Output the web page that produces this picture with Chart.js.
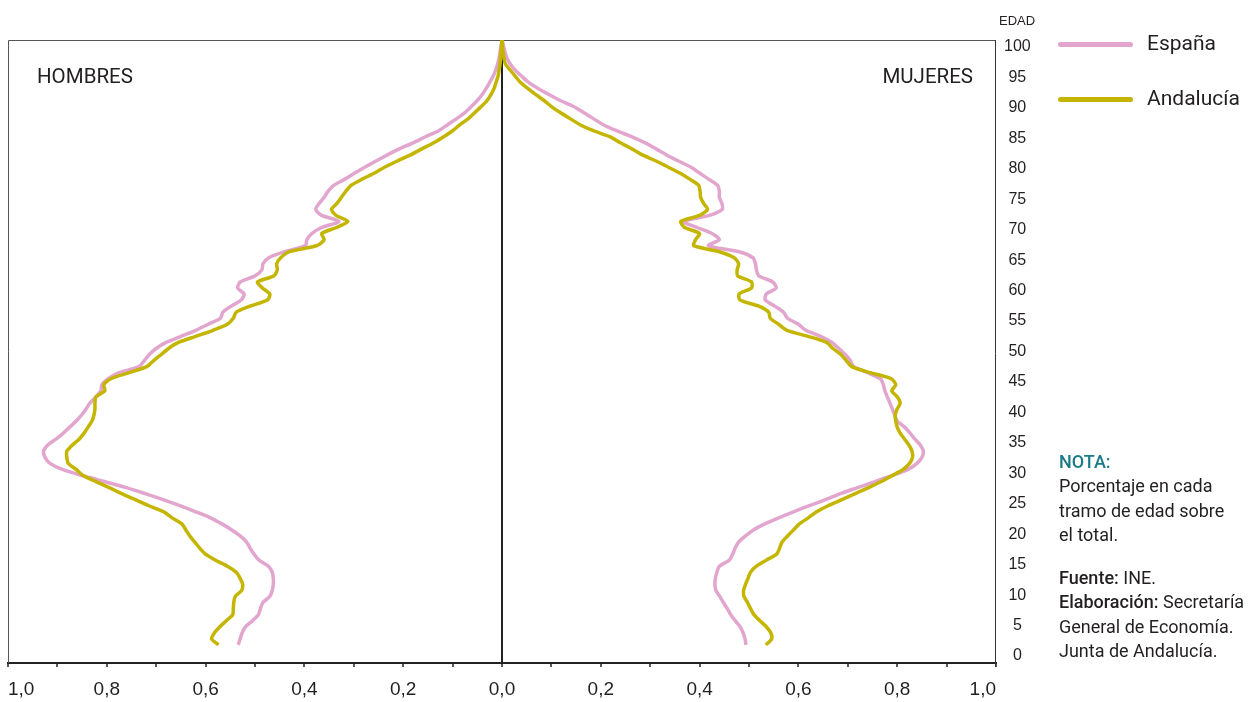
<!DOCTYPE html>
<html lang="es">
<head>
<meta charset="utf-8">
<title>Pirámide de población</title>
<script src="https://cdn.jsdelivr.net/npm/chart.js@4.4.1/dist/chart.umd.min.js"></script>
<style>
  body { margin: 0; background: #fff; }
  #wrap { position: relative; width: 1255px; height: 702px; font-family: Roboto, 'Liberation Sans', Arial, sans-serif; color: #231f20; }
  #grafico { position: absolute; left: 0; top: 0; }
  .lbl { position: absolute; height: 24px; line-height: 24px; white-space: nowrap; }
  .leyenda-linea { position: absolute; left: 1058px; width: 75px; height: 5px; border-radius: 3px; }
  .notas { position: absolute; left: 1059px; font-size: 18px; line-height: 24.5px; white-space: nowrap; }
  .notas b { font-weight: 500; }
</style>
</head>
<body>
<div id="wrap">
  <canvas id="grafico" width="1255" height="702"></canvas>
  <div class="lbl" style="left:37px;top:64px;font-size:20.5px;">HOMBRES</div>
  <div class="lbl" style="right:282px;top:64px;font-size:20.5px;">MUJERES</div>
  <div class="lbl" style="left:999px;top:9px;font-size:13px;font-family:'Liberation Sans',Arial,sans-serif;">EDAD</div>
  <div id="leyenda"></div>
  <div class="notas" style="top:449.75px;">
    <div style="color:#1b7a8a;font-weight:500;">NOTA:</div>
    <div>Porcentaje en cada</div>
    <div>tramo de edad sobre</div>
    <div>el total.</div>
  </div>
  <div class="notas" style="top:565.75px;">
    <div><b>Fuente:</b> INE.</div>
    <div><b>Elaboración:</b> Secretaría</div>
    <div>General de Economía.</div>
    <div>Junta de Andalucía.</div>
  </div>
</div>
<script>
// edades (0 a 100 años)
const edades = Array.from({length: 101}, (_, i) => i);

// porcentaje de población en cada edad (lectura del gráfico)
const espanaHombres = [
  0.534, 0.530, 0.526, 0.519, 0.505, 0.493, 0.489, 0.484, 0.470, 0.465,
  0.463, 0.463, 0.465, 0.473, 0.492, 0.502, 0.510, 0.517, 0.530, 0.547,
  0.567, 0.590, 0.620, 0.652, 0.686, 0.722, 0.760, 0.805, 0.850, 0.890,
  0.915, 0.925, 0.928, 0.920, 0.903, 0.888, 0.875, 0.862, 0.851, 0.842,
  0.834, 0.822, 0.812, 0.810, 0.797, 0.775, 0.735, 0.724, 0.714, 0.700,
  0.680, 0.650, 0.620, 0.595, 0.570, 0.565, 0.548, 0.528, 0.522, 0.535,
  0.530, 0.500, 0.486, 0.484, 0.472, 0.440, 0.398, 0.395, 0.385, 0.365,
  0.330, 0.365, 0.377, 0.370, 0.360, 0.352, 0.340, 0.318, 0.298, 0.277,
  0.255, 0.232, 0.208, 0.180, 0.155, 0.128, 0.110, 0.092, 0.075, 0.062,
  0.050, 0.040, 0.032, 0.025, 0.018, 0.013, 0.009, 0.006, 0.004, 0.002, 0.000
];
const andaluciaHombres = [
  0.574, 0.588, 0.582, 0.571, 0.558, 0.545, 0.544, 0.543, 0.540, 0.527,
  0.525, 0.530, 0.538, 0.556, 0.580, 0.600, 0.612, 0.622, 0.632, 0.640,
  0.648, 0.668, 0.685, 0.715, 0.742, 0.770, 0.795, 0.822, 0.848, 0.862,
  0.878, 0.881, 0.881, 0.870, 0.856, 0.846, 0.838, 0.830, 0.826, 0.824,
  0.824, 0.822, 0.804, 0.806, 0.792, 0.755, 0.719, 0.705, 0.690, 0.675,
  0.655, 0.620, 0.585, 0.556, 0.544, 0.538, 0.510, 0.475, 0.470, 0.485,
  0.495, 0.462, 0.455, 0.456, 0.448, 0.430, 0.375, 0.360, 0.365, 0.335,
  0.312, 0.336, 0.345, 0.334, 0.325, 0.316, 0.305, 0.283, 0.258, 0.237,
  0.212, 0.185, 0.162, 0.138, 0.118, 0.100, 0.085, 0.068, 0.055, 0.042,
  0.030, 0.022, 0.016, 0.012, 0.008, 0.006, 0.004, 0.003, 0.002, 0.001, 0.000
];
const espanaMujeres = [
  0.494, 0.492, 0.488, 0.482, 0.472, 0.463, 0.456, 0.448, 0.441, 0.433,
  0.431, 0.432, 0.435, 0.440, 0.460, 0.467, 0.472, 0.479, 0.493, 0.509,
  0.532, 0.560, 0.590, 0.622, 0.655, 0.685, 0.720, 0.755, 0.790, 0.822,
  0.840, 0.850, 0.853, 0.847, 0.836, 0.826, 0.815, 0.800, 0.795, 0.790,
  0.785, 0.780, 0.775, 0.772, 0.766, 0.740, 0.712, 0.705, 0.695, 0.682,
  0.668, 0.645, 0.615, 0.600, 0.578, 0.570, 0.552, 0.533, 0.535, 0.555,
  0.548, 0.520, 0.515, 0.513, 0.508, 0.480, 0.418, 0.440, 0.425, 0.395,
  0.367, 0.420, 0.446, 0.445, 0.440, 0.440, 0.436, 0.418, 0.400, 0.382,
  0.357, 0.333, 0.312, 0.290, 0.263, 0.232, 0.205, 0.185, 0.165, 0.145,
  0.118, 0.095, 0.073, 0.054, 0.040, 0.027, 0.017, 0.010, 0.006, 0.003, 0.000
];
const andaluciaMujeres = [
  0.534, 0.546, 0.544, 0.535, 0.522, 0.510, 0.503, 0.497, 0.490, 0.489,
  0.493, 0.498, 0.503, 0.515, 0.535, 0.556, 0.562, 0.567, 0.578, 0.590,
  0.602, 0.620, 0.637, 0.660, 0.688, 0.715, 0.742, 0.768, 0.790, 0.812,
  0.825, 0.831, 0.830, 0.824, 0.815, 0.806, 0.800, 0.797, 0.796, 0.800,
  0.806, 0.800, 0.789, 0.797, 0.788, 0.745, 0.708, 0.697, 0.686, 0.670,
  0.657, 0.620, 0.577, 0.560, 0.543, 0.540, 0.520, 0.482, 0.480, 0.505,
  0.505, 0.477, 0.476, 0.479, 0.470, 0.440, 0.388, 0.392, 0.400, 0.370,
  0.362, 0.400, 0.416, 0.408, 0.402, 0.401, 0.398, 0.380, 0.360, 0.336,
  0.312, 0.284, 0.263, 0.240, 0.219, 0.185, 0.158, 0.138, 0.118, 0.100,
  0.085, 0.068, 0.052, 0.037, 0.027, 0.017, 0.007, 0.004, 0.002, 0.001, 0.000
];

// etiquetas de los ejes
const etiquetasX = ['1,0', '0,8', '0,6', '0,4', '0,2', '0,0', '0,2', '0,4', '0,6', '0,8', '1,0'];
const ticksEdad = [0, 5, 10, 15, 20, 25, 30, 35, 40, 45, 50, 55, 60, 65, 70, 75, 80, 85, 90, 95, 100];

const series = ['España', 'Andalucía'];
const colores = ['#e2a5cd', '#c4b500'];

const fuenteEje = "'Liberation Sans Narrow', 'Arial Narrow', 'Liberation Sans', Arial, sans-serif";

// hombres a la izquierda (valores negativos), mujeres a la derecha
function puntos(valores, signo) {
  return edades.map((e, i) => ({x: signo * valores[i], y: e}));
}

function serie(nombre, valores, signo, color, orden) {
  return {
    label: nombre,
    data: puntos(valores, signo),
    showLine: true,
    borderColor: color,
    backgroundColor: color,
    borderWidth: 3.5,
    pointRadius: 0,
    tension: 0.25,
    order: orden,
    yAxisID: 'y'
  };
}

// marco del área del gráfico
const marco = {
  id: 'marco',
  beforeDatasetsDraw(chart) {
    const {ctx, chartArea: a} = chart;
    ctx.save();
    ctx.lineWidth = 1;
    ctx.strokeStyle = '#555';
    ctx.beginPath();
    ctx.moveTo(a.left + 0.5, a.bottom);
    ctx.lineTo(a.left + 0.5, a.top + 0.5);
    ctx.lineTo(a.right, a.top + 0.5);
    ctx.stroke();
    ctx.strokeStyle = '#333';
    ctx.beginPath();
    ctx.moveTo(a.right - 0.5, a.top);
    ctx.lineTo(a.right - 0.5, a.bottom + 4);
    ctx.stroke();
    ctx.restore();
  }
};

new Chart(document.getElementById('grafico'), {
  type: 'scatter',
  data: {
    datasets: [
      serie(series[0], espanaHombres, -1, colores[0], 2),
      serie(series[1], andaluciaHombres, -1, colores[1], 1),
      serie(series[0], espanaMujeres, 1, colores[0], 2),
      serie(series[1], andaluciaMujeres, 1, colores[1], 1)
    ]
  },
  options: {
    responsive: false,
    animation: false,
    layout: { padding: { left: 8, top: 40, right: 219, bottom: 0 } },
    plugins: { legend: { display: false }, tooltip: { enabled: false } },
    scales: {
      x: {
        type: 'linear',
        position: 'bottom',
        min: -1,
        max: 1,
        afterFit: s => { s.height = 39; s.paddingLeft = 0; s.paddingRight = 0; },
        border: { display: true, color: '#222', width: 2 },
        grid: {
          color: c => (c.tick && Math.abs(c.tick.value) < 1e-9 ? '#222' : 'rgba(0,0,0,0)'),
          lineWidth: 2,
          drawTicks: true,
          tickLength: 4,
          tickColor: '#222',
          tickWidth: 1.5
        },
        ticks: {
          stepSize: 0.1,
          autoSkip: false,
          maxRotation: 0,
          align: 'inner',
          padding: 11,
          color: '#231f20',
          font: { family: fuenteEje, size: 19 },
          callback: (v, i) => (i % 2 === 0 ? etiquetasX[i / 2] : '')
        }
      },
      y: {
        type: 'linear',
        display: false,
        min: -3,
        max: 100
      },
      yEdad: {
        type: 'linear',
        position: 'right',
        min: -1.15,
        max: 101.15,
        afterFit: s => { s.width = 40; },
        afterBuildTicks: s => { s.ticks = ticksEdad.map(v => ({value: v})); },
        border: { display: false },
        grid: { display: false, drawTicks: false },
        ticks: {
          padding: 8,
          crossAlign: 'center',
          color: '#231f20',
          font: { family: fuenteEje, size: 16 }
        }
      }
    }
  },
  plugins: [marco]
});

// leyenda
const leyenda = document.getElementById('leyenda');
const centrosLeyenda = [44, 99];
series.forEach((nombre, i) => {
  const linea = document.createElement('div');
  linea.className = 'leyenda-linea';
  linea.style.top = (centrosLeyenda[i] - 2.5) + 'px';
  linea.style.background = colores[i];
  leyenda.appendChild(linea);
  const texto = document.createElement('div');
  texto.className = 'lbl';
  texto.style.left = '1147px';
  texto.style.top = (centrosLeyenda[i] - 13) + 'px';
  texto.style.fontSize = '21px';
  texto.textContent = nombre;
  leyenda.appendChild(texto);
});
</script>
</body>
</html>
